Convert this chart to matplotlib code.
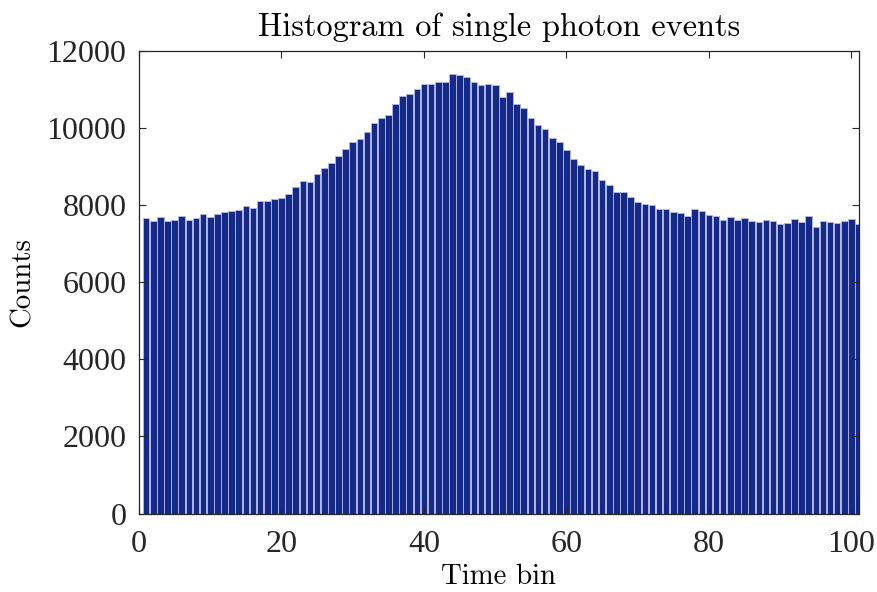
import numpy as np
import matplotlib
matplotlib.use("Agg")
import matplotlib.pyplot as plt

plt.rcParams['font.family'] = ['cmr10', 'DejaVu Serif']
plt.rcParams['mathtext.fontset'] = 'cm'
plt.rcParams['axes.formatter.use_mathtext'] = True

# counts per time bin
bins = np.arange(1, 102)
counts = [
    7676, 7589, 7702, 7589, 7606, 7710, 7615, 7676, 7762, 7684,
    7771, 7823, 7840, 7883, 7987, 7935, 8108, 8108, 8168, 8194,
    8281, 8463, 8636, 8601, 8800, 8964, 9103, 9284, 9449, 9647,
    9709, 9890, 10123, 10253, 10339, 10625, 10832, 10893, 11005, 11144,
    11135, 11187, 11204, 11395, 11377, 11334, 11187, 11109, 11135, 11118,
    10806, 10928, 10633, 10512, 10270, 10080, 9968, 9734, 9648, 9431,
    9206, 9042, 8930, 8878, 8653, 8515, 8334, 8350, 8220, 8090,
    8022, 8012, 7901, 7908, 7823, 7797, 7710, 7892, 7840, 7745,
    7719, 7615, 7684, 7615, 7676, 7589, 7555, 7615, 7589, 7511,
    7529, 7641, 7563, 7710, 7425, 7589, 7555, 7546, 7580, 7641,
    7520,
]
xticks = [0, 20, 40, 60, 80, 100]
yticks = [0, 2000, 4000, 6000, 8000, 10000, 12000]

fig = plt.figure(figsize=(8.77, 5.92), dpi=100)
ax = fig.add_axes([0.1585, 0.1326, 0.8205, 0.7813])

ax.bar(bins, counts, width=0.92, color='#15298a', edgecolor='#b3bbe0', linewidth=0.6)

ax.set_xlim(0, 101)
ax.set_ylim(0, 12000)
ax.set_xticks(xticks)
ax.set_yticks(yticks)
ax.set_xticklabels([str(t) for t in xticks], family='Liberation Serif', fontsize=23)
ax.set_yticklabels([str(t) for t in yticks], family='Liberation Serif', fontsize=23)
ax.tick_params(direction='in', length=5, width=0.8, colors='#262626',
               top=True, right=True)
ax.tick_params(axis='x', pad=12)
ax.tick_params(axis='y', pad=9)
for s in ax.spines.values():
    s.set_color('#262626')
    s.set_linewidth(0.9)

ax.set_title('Histogram of single photon events', fontsize=23.3, pad=11)
ax.set_xlabel('Time bin', fontsize=20.8, labelpad=3)
ax.set_ylabel('Counts', fontsize=20.8, labelpad=8)

fig.savefig('out.png', dpi=100)
